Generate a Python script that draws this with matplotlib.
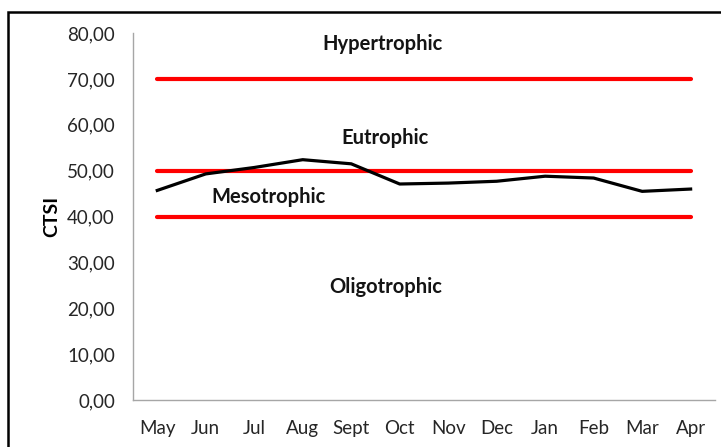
import matplotlib.pyplot as plt
from matplotlib.patches import Rectangle
from matplotlib.ticker import FuncFormatter

months = ["May", "Jun", "Jul", "Aug", "Sept", "Oct", "Nov", "Dec", "Jan", "Feb", "Mar", "Apr"]
ctsi = [45.7, 49.3, 50.7, 52.4, 51.5, 47.1, 47.3, 47.7, 48.8, 48.4, 45.5, 46.0]

# trophic state limits
limits = [40, 50, 70]
zones = ["Hypertrophic", "Eutrophic", "Mesotrophic", "Oligotrophic"]
zone_pos = [(4.65, 77.6), (4.7, 57.2), (2.3, 44.3), (4.72, 24.6)]


def main() -> None:
    plt.rcParams["font.family"] = ["Lato", "DejaVu Sans"]

    fig = plt.figure(figsize=(7.21, 4.47), dpi=100)
    ax = fig.add_axes([0.1845, 0.105, 0.807, 0.821])

    x = list(range(len(months)))
    for lim in limits:
        ax.plot([x[0], x[-1]], [lim, lim], color="#ff0000", lw=3.0, solid_capstyle="round", zorder=2)
    ax.plot(x, ctsi, color="black", lw=2.3, zorder=3)

    for name, (tx, ty) in zip(zones, zone_pos):
        ax.text(tx, ty, name, ha="center", va="center", fontsize=14.5, fontweight="bold", color="#141414")

    ax.set_xlim(-0.5, 11.5)
    ax.set_ylim(0, 80)
    ax.set_yticks(range(0, 81, 10))
    ax.yaxis.set_major_formatter(FuncFormatter(lambda v, p: f"{v:.2f}".replace(".", ",")))
    ax.set_xticks(x)
    ax.set_xticklabels(months)
    ax.tick_params(axis="both", length=0, labelsize=13.5, colors="#262626")
    ax.tick_params(axis="y", pad=13)
    ax.tick_params(axis="x", pad=14)
    ax.set_ylabel("CTSI", fontsize=14, fontweight="bold", labelpad=5)

    for side in ["top", "right"]:
        ax.spines[side].set_visible(False)
    for side in ["left", "bottom"]:
        ax.spines[side].set_color("#a6a6a6")
        ax.spines[side].set_linewidth(1.0)

    # outer frame, cut off on the right and bottom
    fig.patches.append(Rectangle((8 / 721, -0.1), 1.2, 1 - 12 / 447 + 0.1, transform=fig.transFigure,
                                 fill=False, edgecolor="black", lw=1.8))

    fig.savefig("out.png", dpi=100)


if __name__ == "__main__":
    main()
